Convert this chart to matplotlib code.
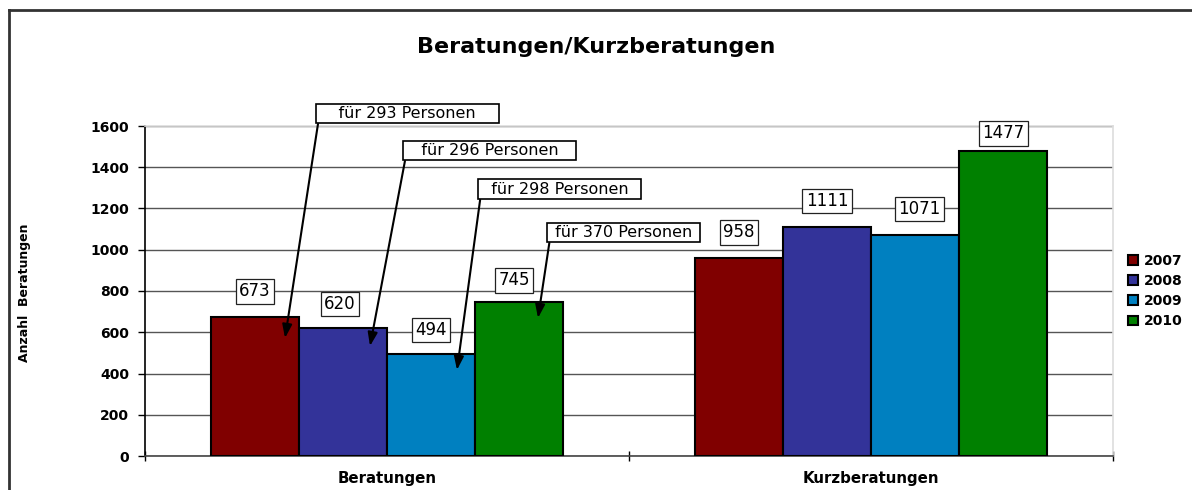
import matplotlib.pyplot as plt
import matplotlib.lines as mlines
import numpy as np

categories = ['Beratungen', 'Kurzberatungen']
years = ['2007', '2008', '2009', '2010']
values = {
    '2007': [673, 958],
    '2008': [620, 1111],
    '2009': [494, 1071],
    '2010': [745, 1477],
}
colors = ['#800000', '#333399', '#0080c0', '#008000']

# Personen-Hinweise (nur Beratungen)
personen = ['für 293 Personen', 'für 296 Personen', 'für 298 Personen', 'für 370 Personen']

plt.rcParams['font.family'] = ['DejaVu Sans']

fig = plt.figure(figsize=(11.92, 4.90), dpi=100)
ax = fig.add_axes([145/1192, 34/490, 968/1192, 330/490])

x = np.arange(len(categories))
w = 0.182
bars = []
for i, yr in enumerate(years):
    b = ax.bar(x + (i - 1.5) * w, values[yr], w, color=colors[i],
               edgecolor='black', linewidth=1.5, label=yr, zorder=3)
    bars.append(b)

# value labels in boxes (offsets in pixels)
offsets = {
    '2007': [(0, 26), (0, 26)],
    '2008': [(-3, 24), (0, 26)],
    '2009': [(0, 24), (4, 26)],
    '2010': [(-5, 22), (0, 18)],
}
for i, yr in enumerate(years):
    for j, rect in enumerate(bars[i]):
        ax.annotate(str(values[yr][j]),
                    xy=(rect.get_x() + rect.get_width() / 2, rect.get_height()),
                    xytext=offsets[yr][j], textcoords='offset pixels',
                    ha='center', va='center', fontsize=12, zorder=5,
                    bbox=dict(boxstyle='square,pad=0.2', fc='white', ec='#222222', lw=0.9))

# "für ... Personen" callouts with arrows into the Beratungen bars
box_pos = [(0.0424, 1661), (0.2118, 1481), (0.3564, 1294), (0.4886, 1084)]
targets = [(-0.2107, 572), (-0.0351, 533), (0.1446, 417), (0.312, 669)]
pads = [4, 3, 2, 1]
for k in range(4):
    sp = '\u00a0' * pads[k]
    ax.annotate(sp + personen[k] + sp, xy=targets[k], xytext=box_pos[k],
                textcoords='data', ha='center', va='center', fontsize=11.5,
                annotation_clip=False, zorder=6,
                bbox=dict(boxstyle='square,pad=0.15', fc='white', ec='black', lw=1.2),
                arrowprops=dict(arrowstyle='-|>,head_length=0.7,head_width=0.25',
                                color='black', lw=1.5, relpos=(0, 0),
                                shrinkA=0, shrinkB=0))

ax.set_xlim(-0.5, 1.5)
ax.set_ylim(0, 1600)
ax.set_yticks(np.arange(0, 1601, 200))
ax.yaxis.grid(True, color='#555555', linewidth=1, zorder=0)
ax.tick_params(axis='y', direction='out', length=5, width=1, pad=6.5,
               labelsize=10)
for t in ax.get_yticklabels():
    t.set_fontweight('bold')

ax.set_xticks([-0.5, 0.5, 1.5])
ax.set_xticklabels([])
ax.tick_params(axis='x', which='major', direction='inout', length=7, width=1)
ax.set_xticks(x, minor=True)
ax.set_xticklabels(categories, minor=True, fontsize=10.8, fontweight='bold')
ax.tick_params(axis='x', which='minor', length=0, pad=11)

ax.spines['left'].set_color('black')
ax.spines['bottom'].set_color('#444444')
ax.spines['top'].set_color('#dddddd')
ax.spines['right'].set_color('#dddddd')
for s in ax.spines.values():
    s.set_linewidth(1.2)

# y label placed in figure coordinates, far left like the original
fig.text(25/1192, 1 - 293/490, 'Anzahl  Beratungen', rotation=90, fontsize=9,
         fontweight='bold', ha='center', va='center')

fig.text(0.5, 1 - 47/490, 'Beratungen/Kurzberatungen', ha='center', va='center',
         fontsize=16, fontweight='bold')

fig.legend(loc='center left', bbox_to_anchor=(1128/1192, 1 - 291/490),
           frameon=False, prop={'weight': 'bold', 'size': 10},
           handlelength=0.7, handleheight=0.7, handletextpad=0.45,
           labelspacing=0.45, borderpad=0, borderaxespad=0)

# outer chart frame (top and left edges visible)
fig.add_artist(mlines.Line2D([9/1192, 1], [1 - 10/490, 1 - 10/490],
                             transform=fig.transFigure, color='#333333', lw=2))
fig.add_artist(mlines.Line2D([9/1192, 9/1192], [0, 1 - 10/490],
                             transform=fig.transFigure, color='#333333', lw=2))

fig.savefig('out.png', dpi=100)
